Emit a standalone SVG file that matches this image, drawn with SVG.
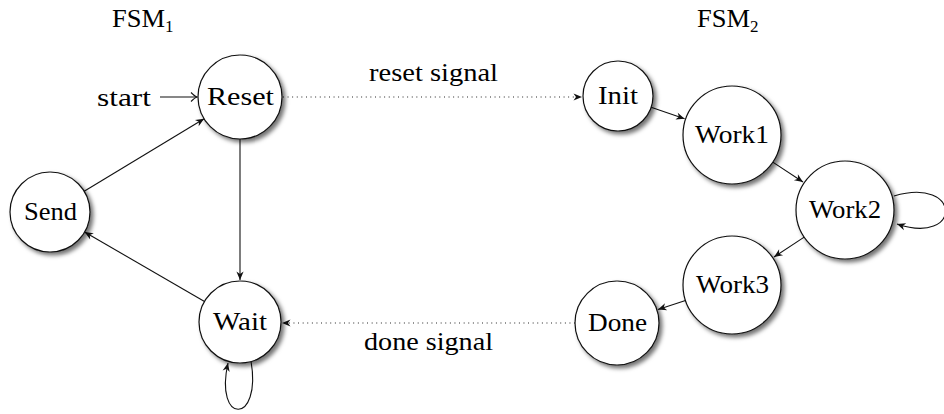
<svg xmlns="http://www.w3.org/2000/svg" width="944" height="414" viewBox="0 0 944 414" font-family="'Liberation Serif', serif">
<style>
text{font-family:'Liberation Serif',serif;font-size:25px;fill:#000;}
.node circle{fill:#fff;stroke:#111;stroke-width:1.2;filter:url(#sh);}
.edge{fill:none;stroke:#111;stroke-width:1.1;}
.dot{fill:none;stroke:#111;stroke-width:1.2;stroke-dasharray:0.9 3.7;}
</style>
<defs>
<filter id="sh" x="-30%" y="-30%" width="160%" height="160%">
<feGaussianBlur in="SourceAlpha" stdDeviation="2.2" result="b"/>
<feOffset in="b" dx="3" dy="3" result="o"/>
<feFlood flood-color="#000" flood-opacity="0.55"/>
<feComposite in2="o" operator="in" result="s"/>
<feMerge><feMergeNode in="s"/><feMergeNode in="SourceGraphic"/></feMerge>
</filter>
<marker id="st" viewBox="-10 -5 11 10" refX="0" refY="0" markerWidth="11" markerHeight="10" markerUnits="userSpaceOnUse" orient="auto">
<path d="M0,0 L-8.5,-3.6 L-6,0 L-8.5,3.6 Z" fill="#111"/>
</marker>
<marker id="to" viewBox="-10 -6 12 12" refX="0" refY="0" markerWidth="12" markerHeight="12" markerUnits="userSpaceOnUse" orient="auto">
<path d="M-6,-4.5 Q-2,-0.6 0,0 Q-2,0.6 -6,4.5" fill="none" stroke="#111" stroke-width="1.1"/>
</marker>
</defs>

<text x="112" y="27"><tspan textLength="53" lengthAdjust="spacingAndGlyphs">FSM</tspan><tspan font-size="17" dy="5">1</tspan></text>
<text x="697" y="27"><tspan textLength="53" lengthAdjust="spacingAndGlyphs">FSM</tspan><tspan font-size="17" dy="5">2</tspan></text>
<text x="97" y="106" textLength="54" lengthAdjust="spacingAndGlyphs">start</text>

<g id="connectors">
<line class="edge" x1="160" y1="97" x2="197" y2="97" marker-end="url(#to)"/>
<line class="edge" x1="240" y1="139" x2="240" y2="280" marker-end="url(#st)"/>
<line class="edge" x1="204.5" y1="301.5" x2="84.6" y2="232" marker-end="url(#st)"/>
<line class="edge" x1="84.2" y1="191.3" x2="204.1" y2="118.7" marker-end="url(#st)"/>
<path class="edge" d="M251,361 C262,425 214,425 228,363" marker-end="url(#st)"/>
<line class="dot" x1="283" y1="97" x2="582" y2="97" marker-end="url(#st)"/>
<text x="369" y="81" textLength="129" lengthAdjust="spacingAndGlyphs">reset signal</text>
<line class="edge" x1="651.1" y1="107.3" x2="684.6" y2="118.8" marker-end="url(#st)"/>
<line class="edge" x1="772.8" y1="162.1" x2="803" y2="182" marker-end="url(#st)"/>
<path class="edge" d="M894,196 C962,176 962,246 897,224" marker-end="url(#st)"/>
<line class="edge" x1="804.2" y1="237.1" x2="774" y2="257" marker-end="url(#st)"/>
<line class="edge" x1="685.5" y1="300.4" x2="658" y2="309.4" marker-end="url(#st)"/>
<line class="dot" x1="575" y1="323" x2="282" y2="323" marker-end="url(#st)"/>
<text x="364" y="350" textLength="129" lengthAdjust="spacingAndGlyphs">done signal</text>
</g>

<g id="Reset" class="node"><circle cx="240" cy="97" r="42"/><text x="207" y="105" textLength="67" lengthAdjust="spacingAndGlyphs">Reset</text></g>
<g id="Send" class="node"><circle cx="50" cy="212" r="40"/><text x="24" y="220" textLength="53" lengthAdjust="spacingAndGlyphs">Send</text></g>
<g id="Wait" class="node"><circle cx="240" cy="322" r="41"/><text x="213" y="330" textLength="54" lengthAdjust="spacingAndGlyphs">Wait</text></g>
<g id="Init" class="node"><circle cx="618" cy="96" r="35"/><text x="598" y="104" textLength="40" lengthAdjust="spacingAndGlyphs">Init</text></g>
<g id="Work1" class="node"><circle cx="732" cy="135" r="49"/><text x="695" y="143" textLength="74" lengthAdjust="spacingAndGlyphs">Work1</text></g>
<g id="Work2" class="node"><circle cx="845" cy="210" r="49"/><text x="809" y="218" textLength="72" lengthAdjust="spacingAndGlyphs">Work2</text></g>
<g id="Work3" class="node"><circle cx="732" cy="285" r="49"/><text x="696" y="293" textLength="73" lengthAdjust="spacingAndGlyphs">Work3</text></g>
<g id="Done" class="node"><circle cx="617" cy="323" r="42"/><text x="588" y="331" textLength="59" lengthAdjust="spacingAndGlyphs">Done</text></g>
</svg>
